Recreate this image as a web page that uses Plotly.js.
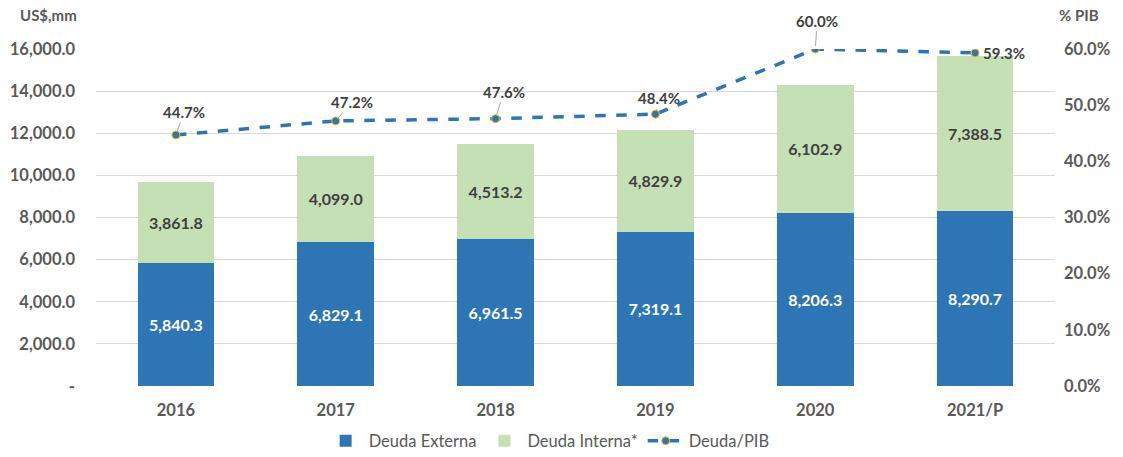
<!DOCTYPE html>
<html><head><meta charset="utf-8">
<script src="https://cdn.plot.ly/plotly-3.0.1.min.js"></script>
<style>html,body{margin:0;padding:0;background:#fff}#chart{width:1123px;height:457px}</style>
</head><body><div id="chart"></div>
<script>
const categories = ['2016','2017','2018','2019','2020','2021/P'];
const deudaExterna = [5840.3, 6829.1, 6961.5, 7319.1, 8206.3, 8290.7];
const deudaInterna = [3861.8, 4099.0, 4513.2, 4829.9, 6102.9, 7388.5];
const deudaPIB = [0.447, 0.472, 0.476, 0.484, 0.600, 0.593];
const leftTicks = [0,2000,4000,6000,8000,10000,12000,14000,16000];
const leftTickText = ['-','2,000.0','4,000.0','6,000.0','8,000.0','10,000.0','12,000.0','14,000.0','16,000.0'];
const pibLabelOffsets = [[8,-23],[16,-19],[8,-27],[4,-16],[2,-28],[null,null]];

const xpos = categories.map((c,i)=>i);
const font = 'Lato, "Open Sans", sans-serif';
const fmt = v=>v.toLocaleString('en-US',{minimumFractionDigits:1,maximumFractionDigits:1});
const traces = [
  {type:'bar', name:'Deuda Externa', x:xpos, y:deudaExterna, marker:{color:'#2E75B6'},
   text:deudaExterna.map(fmt), textposition:'inside', insidetextanchor:'middle',
   textfont:{color:'#ffffff', size:16, family:font, weight:'bold'}, width:0.48, hoverinfo:'y'},
  {type:'bar', name:'Deuda Interna*', x:xpos, y:deudaInterna, marker:{color:'#C5E0B4'},
   text:deudaInterna.map(fmt), textposition:'inside', insidetextanchor:'middle',
   textfont:{color:'#404040', size:16, family:font, weight:'bold'}, width:0.48, hoverinfo:'y'},
  {type:'scatter', mode:'lines+markers', name:'Deuda/PIB', x:xpos, y:deudaPIB, yaxis:'y2',
   line:{color:'#2E75B6', width:3.5, dash:'dash'},
   marker:{color:'#2E75B6', size:8, line:{color:'#FFC000', width:1}}}
];

const titleY = (386-15)/337;
const annotations = [
  {text:'US$,mm', xref:'paper', yref:'paper', x:-0.05, y:titleY, xanchor:'center', yanchor:'middle', showarrow:false,
   font:{family:font, size:15, color:'#595959', weight:'bold'}},
  {text:'% PIB', xref:'paper', yref:'paper', x:1.002, y:titleY, xanchor:'left', yanchor:'middle', showarrow:false,
   font:{family:font, size:15, color:'#595959', weight:'bold'}}
];
deudaPIB.forEach((v,i)=>{
  const label = (v*100).toFixed(1)+'%';
  const off = pibLabelOffsets[i];
  if (off[0]===null) {
    annotations.push({text:label, x:xpos[i], y:v, xref:'x', yref:'y2', showarrow:false,
      xanchor:'left', yanchor:'middle', xshift:6, font:{family:font, size:15, color:'#404040', weight:'bold'}});
  } else {
    annotations.push({text:label, x:xpos[i], y:v, xref:'x', yref:'y2', showarrow:true,
      arrowhead:0, arrowwidth:1, arrowcolor:'#A6A6A6', ax:off[0], ay:off[1], standoff:3,
      font:{family:font, size:15, color:'#404040', weight:'bold'}});
  }
});

const layout = {
  width:1123, height:457,
  margin:{l:96, r:68, t:49, b:71, autoexpand:false},
  paper_bgcolor:'#ffffff', plot_bgcolor:'#ffffff',
  barmode:'stack',
  font:{family:font, color:'#595959'},
  showlegend:true,
  legend:{orientation:'h', x:0.472, xanchor:'center', yref:'container', y:16/457, yanchor:'middle',
    font:{family:font, size:16.5, color:'#595959'}, traceorder:'normal', itemwidth:36},
  xaxis:{range:[-0.5,5.5], tickvals:xpos, ticktext:categories, tickfont:{family:font, size:16.5, color:'#595959', weight:'bold'},
    showline:false, ticks:'', zeroline:false, showgrid:false, ticklabelstandoff:12},
  yaxis:{range:[0,16000], tickvals:leftTicks, ticktext:leftTickText, showgrid:true, gridcolor:'#D9D9D9',
    gridwidth:1, zeroline:false, tickfont:{family:font, size:16.5, color:'#595959', weight:'bold'}, ticks:'', ticklabelstandoff:20},
  yaxis2:{range:[0,0.6], overlaying:'y', side:'right', tickformat:'.1%', dtick:0.1, showgrid:false, zeroline:false,
    tickfont:{family:font, size:16.5, color:'#595959', weight:'bold'}, ticks:'', ticklabelstandoff:8},
  annotations:annotations
};
Plotly.newPlot('chart', traces, layout, {displayModeBar:false, staticPlot:true});
</script></body></html>
